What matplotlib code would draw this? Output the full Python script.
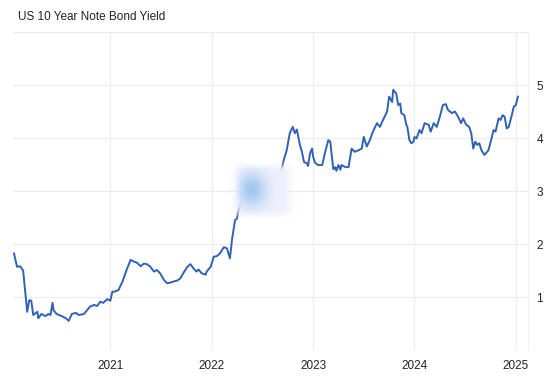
import numpy as np
import matplotlib
matplotlib.use("Agg")
import matplotlib.pyplot as plt

# decimal year and yield (%)
years = [
    2020.05, 2020.08, 2020.11, 2020.14, 2020.18, 2020.20, 2020.22, 2020.24, 2020.28, 2020.29,
    2020.32, 2020.36, 2020.39, 2020.41, 2020.43, 2020.44, 2020.47, 2020.52, 2020.56, 2020.59,
    2020.62, 2020.66, 2020.69, 2020.74, 2020.77, 2020.80, 2020.84, 2020.87, 2020.90, 2020.93,
    2020.97, 2021.00, 2021.02, 2021.04, 2021.08, 2021.12, 2021.16, 2021.20, 2021.23, 2021.26,
    2021.30, 2021.33, 2021.36, 2021.39, 2021.43, 2021.46, 2021.49, 2021.53, 2021.56, 2021.59,
    2021.62, 2021.66, 2021.69, 2021.72, 2021.76, 2021.79, 2021.82, 2021.85, 2021.87, 2021.90,
    2021.94, 2021.95, 2021.99, 2022.02, 2022.05, 2022.08, 2022.12, 2022.15, 2022.18, 2022.20,
    2022.21, 2022.23, 2022.25, 2022.26, 2022.29, 2022.32, 2022.35, 2022.38, 2022.41, 2022.44,
    2022.46, 2022.49, 2022.52, 2022.55, 2022.58, 2022.60, 2022.63, 2022.66, 2022.67, 2022.69,
    2022.71, 2022.74, 2022.77, 2022.80, 2022.82, 2022.84, 2022.87, 2022.89, 2022.91, 2022.94,
    2022.95, 2022.97, 2022.99, 2023.00, 2023.02, 2023.05, 2023.09, 2023.12, 2023.15, 2023.17,
    2023.18, 2023.20, 2023.22, 2023.23, 2023.25, 2023.27, 2023.28, 2023.32, 2023.35, 2023.38,
    2023.41, 2023.45, 2023.48, 2023.50, 2023.53, 2023.56, 2023.59, 2023.63, 2023.66, 2023.69,
    2023.73, 2023.75, 2023.78, 2023.79, 2023.82, 2023.84, 2023.86, 2023.87, 2023.90, 2023.92,
    2023.93, 2023.95, 2023.97, 2023.99, 2024.00, 2024.02, 2024.05, 2024.07, 2024.10, 2024.14,
    2024.16, 2024.19, 2024.22, 2024.25, 2024.28, 2024.31, 2024.33, 2024.37, 2024.40, 2024.43,
    2024.46, 2024.48, 2024.51, 2024.54, 2024.56, 2024.58, 2024.60, 2024.62, 2024.64, 2024.66,
    2024.69, 2024.73, 2024.76, 2024.78, 2024.80, 2024.83, 2024.85, 2024.87, 2024.89, 2024.91,
    2024.93, 2024.96, 2024.98, 2025.00, 2025.02,
]
yields = [
    1.82, 1.57, 1.58, 1.50, 0.72, 0.94, 0.93, 0.66, 0.72, 0.60,
    0.68, 0.64, 0.68, 0.66, 0.89, 0.75, 0.68, 0.64, 0.60, 0.55,
    0.68, 0.70, 0.66, 0.68, 0.75, 0.82, 0.85, 0.83, 0.91, 0.89,
    0.96, 0.93, 1.10, 1.10, 1.13, 1.29, 1.51, 1.70, 1.67, 1.65,
    1.58, 1.63, 1.62, 1.58, 1.48, 1.51, 1.45, 1.32, 1.26, 1.27,
    1.29, 1.31, 1.35, 1.45, 1.57, 1.62, 1.54, 1.48, 1.52, 1.45,
    1.42, 1.48, 1.57, 1.76, 1.77, 1.82, 1.94, 1.92, 1.73, 2.08,
    2.20, 2.45, 2.48, 2.61, 2.75, 2.90, 3.00, 2.95, 2.85, 3.00,
    3.15, 3.05, 2.95, 2.80, 2.70, 2.85, 3.00, 3.15, 3.33, 3.40,
    3.58, 3.77, 4.09, 4.21, 4.09, 4.16, 3.87, 3.74, 3.55, 3.52,
    3.47, 3.71, 3.80, 3.65, 3.53, 3.49, 3.49, 3.74, 3.96, 3.93,
    3.74, 3.41, 3.45, 3.38, 3.49, 3.40, 3.49, 3.45, 3.45, 3.80,
    3.74, 3.77, 3.80, 4.02, 3.84, 3.96, 4.12, 4.28, 4.21, 4.34,
    4.50, 4.78, 4.68, 4.91, 4.84, 4.62, 4.65, 4.47, 4.43, 4.25,
    4.21, 3.96, 3.90, 3.93, 4.02, 3.99, 4.15, 4.09, 4.28, 4.25,
    4.12, 4.28, 4.21, 4.40, 4.62, 4.64, 4.53, 4.47, 4.50, 4.40,
    4.28, 4.37, 4.25, 4.21, 4.09, 3.80, 3.93, 3.87, 3.90, 3.77,
    3.68, 3.77, 3.99, 4.15, 4.12, 4.37, 4.34, 4.43, 4.40, 4.18,
    4.21, 4.43, 4.59, 4.62, 4.78,
]
year_ticks = [2021, 2022, 2023, 2024, 2025]
yield_ticks = [1, 2, 3, 4, 5]

plt.rcParams['font.family'] = ['Liberation Sans', 'DejaVu Sans']

fig = plt.figure(figsize=(5.55, 3.79), dpi=100)
ax = fig.add_axes([13 / 555, 1 - 350 / 379, 515 / 555, 318 / 379])

ax.plot(years, yields, color='#2f62b5', linewidth=1.4, zorder=3)

ax.set_xticks(year_ticks)
ax.set_xticklabels([str(y) for y in year_ticks])
ax.set_yticks(range(0, 7))
ax.set_yticklabels(['' if v not in yield_ticks else str(v) for v in range(0, 7)])
ax.yaxis.tick_right()
ax.tick_params(length=0, labelsize=8.5, colors='#222222')
ax.tick_params(axis='x', pad=7)
ax.tick_params(axis='y', pad=6)
ax.grid(True, color='#ececec', linewidth=0.8, zorder=0)
for s in ['left', 'top', 'bottom']:
    ax.spines[s].set_visible(False)
ax.spines['right'].set_color('#f2f2f2')

# blurred watermark blob over the middle of the line
w, h = 90, 80
X, Y = np.meshgrid(np.linspace(0, 1, w), np.linspace(0, 1, h))
def soft(t, a, b, k):
    return 1 / (1 + np.exp(-(t - a) * k)) / (1 + np.exp((t - b) * k))
box = soft(X, 0.14, 0.88, 35) * soft(Y, 0.12, 0.86, 35)
blue = np.exp(-(((X - 0.36) / 0.2) ** 2 + ((Y - 0.48) / 0.26) ** 2))
rgba = np.zeros((h, w, 4))
base = np.array([0.94, 0.94, 0.99])
bc = np.array([0.62, 0.78, 0.94])
for i in range(3):
    rgba[..., i] = base[i] * (1 - blue) + bc[i] * blue
rgba[..., 3] = np.clip(np.maximum(box, blue) * 1.05, 0, 1)
ax.imshow(rgba, extent=((226 - 13) / 515, (298 - 13) / 515, (350 - 224) / 318, (350 - 158) / 318),
          transform=ax.transAxes, aspect='auto', interpolation='bilinear', zorder=4)
ax.set_xlim(2020.04, 2025.12)
ax.set_ylim(0, 6)

fig.text(18 / 555, 1 - 17 / 379, 'US 10 Year Note Bond Yield', fontsize=8.5,
         color='#222222', va='center', ha='left')

fig.savefig('out.png', dpi=100)
